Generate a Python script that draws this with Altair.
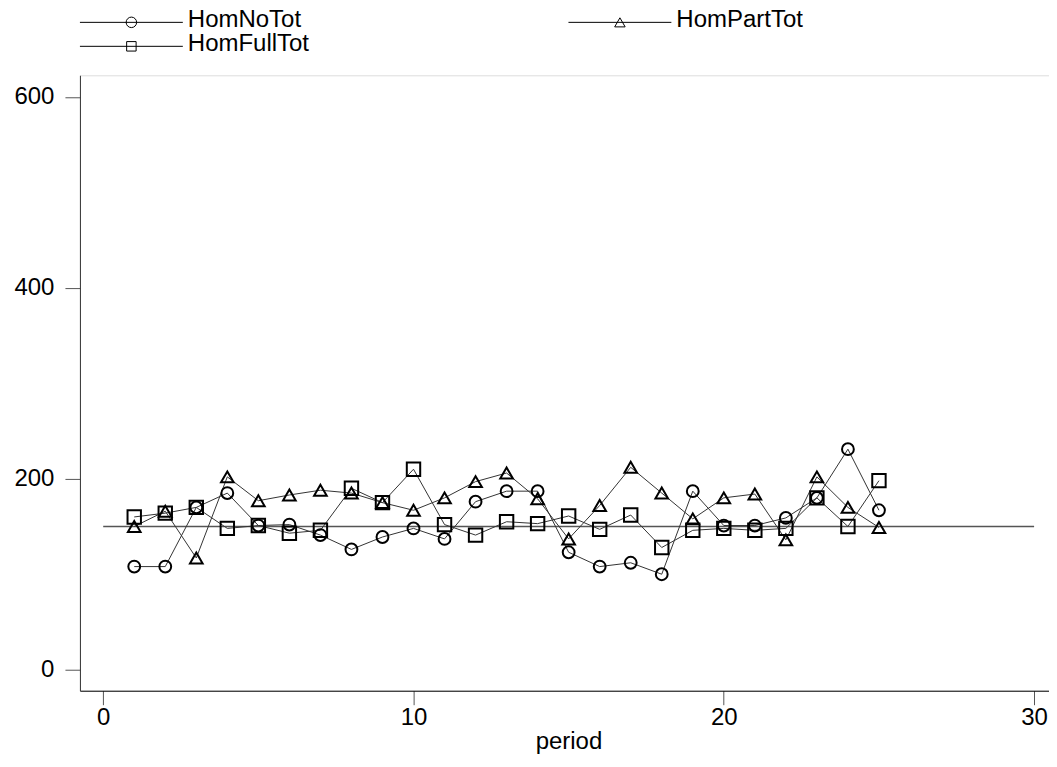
import altair as alt
import pandas as pd

# ---- data ----
periods = list(range(1, 26))
hom_no_tot = [108, 108, 170, 185, 151, 152, 141, 126, 139, 148, 137, 176, 187,
              187, 123, 108, 112, 100, 187, 151, 151, 159, 180, 231, 167]
hom_part_tot = [150, 166, 117, 202, 177, 183, 188, 185, 175, 167, 180, 197, 206,
                179, 137, 172, 212, 185, 158, 180, 184, 136, 202, 170, 149]
hom_full_tot = [160, 164, 170, 148, 151, 143, 146, 190, 175, 210, 152, 141, 155,
                153, 161, 147, 162, 128, 146, 148, 146, 148, 180, 150, 198]
series_names = ["HomNoTot", "HomPartTot", "HomFullTot"]
series_shapes = ["circle", "triangle-up", "square"]
ref_value = [150]
ref_start = [0]
ref_end = [30]
x_ticks = [0, 10, 20, 30]
y_ticks = [0, 200, 400, 600]

FONT = "Liberation Sans"

rows = []
for name, vals in zip(series_names, [hom_no_tot, hom_part_tot, hom_full_tot]):
    for p, v in zip(periods, vals):
        rows.append({"period": p, "value": v, "series": name})
df = pd.DataFrame(rows)
ref_df = pd.DataFrame({"x0": ref_start, "x1": ref_end, "y": ref_value})

W, H = 970, 616
xscale = alt.Scale(domain=[-0.75, 30.48], nice=False, zero=False)
yscale = alt.Scale(domain=[-22, 622.6], nice=False, zero=False)

xaxis = alt.Axis(values=x_ticks, title="period", grid=False, tickSize=14,
                 labelPadding=1, titlePadding=0, domainColor="black",
                 tickColor="#555555", labelFontSize=24, titleFontSize=24,
                 labelFont=FONT, titleFont=FONT, titleFontWeight="normal",
                 labelColor="black", titleColor="black", titleX=489,
                 labelFlush=False)
yaxis = alt.Axis(values=y_ticks, title=None, grid=False, tickSize=15,
                 labelPadding=11, domainColor="#333333", tickColor="#555555",
                 labelFontSize=24, labelFont=FONT, labelColor="black",
                 labelFlush=False)

ref = alt.Chart(ref_df).mark_rule(color="#555555", strokeWidth=1.5).encode(
    x=alt.X("x0:Q", scale=xscale, axis=xaxis),
    x2="x1:Q",
    y=alt.Y("y:Q", scale=yscale, axis=yaxis),
)

lines = alt.Chart(df).mark_line(color="#333333", strokeWidth=1).encode(
    x=alt.X("period:Q", scale=xscale),
    y=alt.Y("value:Q", scale=yscale),
    detail="series:N",
)

points = alt.Chart(df).mark_point(filled=False, color="black", strokeWidth=2,
                                  opacity=1).encode(
    x=alt.X("period:Q", scale=xscale),
    y=alt.Y("value:Q", scale=yscale),
    shape=alt.Shape("series:N", scale=alt.Scale(domain=series_names, range=series_shapes), legend=None),
    size=alt.Size("series:N", scale=alt.Scale(domain=series_names, range=[140, 180, 140]), legend=None),
)

# ---- manual legend (line with marker, then label), two columns ----
legend_layers = []
col_of = [0, 1, 0]
row_of = [0, 0, 1]
for name, shp, c, r in zip(series_names, series_shapes, col_of, row_of):
    ldf = pd.DataFrame({"series": [name]})
    x0 = 0 + c * 489
    ly = -53 + r * 24
    legend_layers.append(alt.Chart(ldf).mark_rule(color="black", strokeWidth=1).encode(
        x=alt.value(x0), x2=alt.value(x0 + 103), y=alt.value(ly)))
    legend_layers.append(alt.Chart(ldf).mark_point(filled=False, color="black", strokeWidth=1,
                                                   opacity=1, size=110 if shp != "square" else 90,
                                                   shape=shp).encode(
        x=alt.value(x0 + 51.5), y=alt.value(ly)))
    legend_layers.append(alt.Chart(ldf).mark_text(align="left", baseline="alphabetic",
                                                  font=FONT, fontSize=24, color="black").encode(
        x=alt.value(x0 + 108), y=alt.value(ly + 5), text="series:N"))

chart = alt.layer(ref, lines, points, *legend_layers).properties(
    width=W, height=H,
    padding={"left": 5, "top": 0, "right": 0, "bottom": 5},
).configure_view(stroke=None).configure(background="white")

chart.save("out.html", embed_options={"renderer": "svg", "actions": False})
